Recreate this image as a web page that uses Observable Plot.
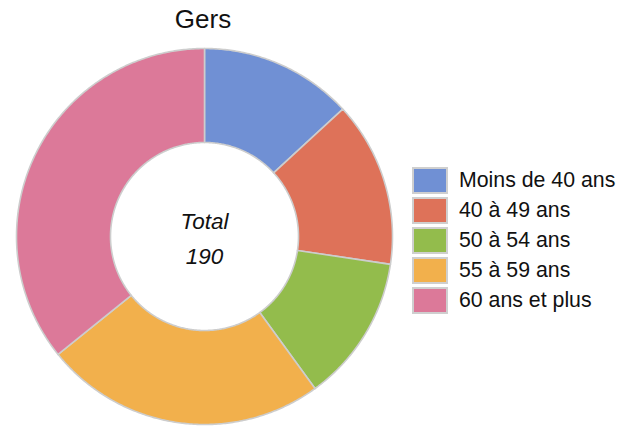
<!DOCTYPE html>
<html>
<head>
<meta charset="utf-8">
<script src="https://cdn.jsdelivr.net/npm/d3@7"></script>
<script src="https://cdn.jsdelivr.net/npm/@observablehq/plot@0.6"></script>
<style>
  html, body { margin: 0; padding: 0; background: #fff; }
  body { width: 618px; height: 430px; position: relative; overflow: hidden;
         font-family: "Liberation Sans", Arial, Helvetica, sans-serif; }
  #chart { position: absolute; left: 0; top: 0; }
  #legend { position: absolute; left: 412px; top: 165px; }
  .row { display: flex; align-items: center; height: 30.2px; }
  .sw { width: 32px; height: 23px; border: 2px solid #cfcfcf; box-sizing: content-box; margin-right: 11px; }
  .lb { font-size: 21.3px; color: #111; white-space: nowrap; }
</style>
</head>
<body>
<div id="chart"></div>
<div id="legend"></div>
<script>
const title = "Gers";
const categories = ["Moins de 40 ans", "40 à 49 ans", "50 à 54 ans", "55 à 59 ans", "60 ans et plus"];
const values = [25, 27, 24, 46, 68];
const colors = ["#7090d4", "#de7259", "#93bc4c", "#f2b04c", "#dc7999"];
const centerLabel = "Total";

const total = d3.sum(values);
const innerRatio = 0.5;

// Build slice outlines in unit-circle data space from d3.pie angles
const arcs = d3.pie().sort(null).value(d => d)(values);
const pts = [];
arcs.forEach((a, i) => {
  const n = Math.max(8, Math.ceil((a.endAngle - a.startAngle) / 0.01));
  const key = categories[i];
  for (let k = 0; k <= n; k++) {
    const t = a.startAngle + (a.endAngle - a.startAngle) * k / n;
    pts.push({key, x: Math.sin(t), y: Math.cos(t)});
  }
  for (let k = n; k >= 0; k--) {
    const t = a.startAngle + (a.endAngle - a.startAngle) * k / n;
    pts.push({key, x: innerRatio * Math.sin(t), y: innerRatio * Math.cos(t)});
  }
  pts.push({key, x: Math.sin(a.startAngle), y: Math.cos(a.startAngle)});
});

const chart = Plot.plot({
  width: 618,
  height: 430,
  margin: 0,
  x: {domain: [-1, 1], range: [16, 392], axis: null},
  y: {domain: [-1, 1], range: [424, 48], axis: null},
  color: {domain: categories, range: colors},
  style: {fontFamily: '"Liberation Sans", Arial, Helvetica, sans-serif', background: "#fff"},
  marks: [
    Plot.line(pts, {x: "x", y: "y", z: "key", fill: "key", stroke: "#cdcdcd", strokeWidth: 1.6, strokeLinejoin: "round"}),
    Plot.text([`${centerLabel}\n${total}`], {x: [0], y: [0], text: d => d, fontSize: 22.5, fontStyle: "italic", lineHeight: 1.58, fill: "#111", dy: -1.5}),
    Plot.text([title], {x: [0], frameAnchor: "top", lineAnchor: "top", text: d => d, fontSize: 26, fill: "#111", dy: 9.5, dx: -1.5})
  ]
});
document.getElementById("chart").appendChild(chart);

const legend = document.getElementById("legend");
categories.forEach((c, i) => {
  const row = document.createElement("div");
  row.className = "row";
  const sw = document.createElement("div");
  sw.className = "sw";
  sw.style.background = colors[i];
  const lb = document.createElement("div");
  lb.className = "lb";
  lb.textContent = c;
  row.appendChild(sw);
  row.appendChild(lb);
  legend.appendChild(row);
});
</script>
</body>
</html>
